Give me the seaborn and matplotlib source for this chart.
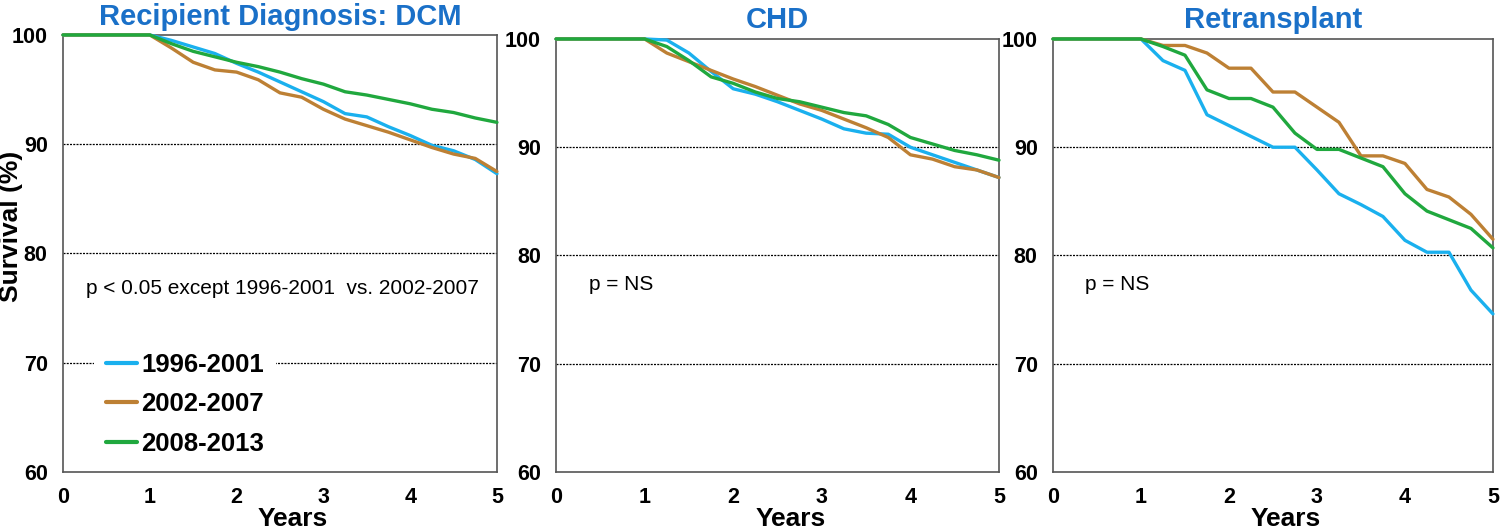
import numpy as np
import pandas as pd
import matplotlib
matplotlib.use("Agg")
import matplotlib.pyplot as plt
import seaborn as sns

# survival (%), quarterly steps after year 1
years = [0, 1, 1.25, 1.5, 1.75, 2, 2.25, 2.5, 2.75, 3, 3.25, 3.5, 3.75, 4, 4.25, 4.5, 4.75, 5]
eras = ["1996-2001", "2002-2007", "2008-2013"]

dcm_9601 = [100, 100, 99.5, 98.9, 98.3, 97.4, 96.6, 95.7, 94.8, 93.9, 92.8, 92.5, 91.6, 90.8, 89.9, 89.4, 88.6, 87.3]
dcm_0207 = [100, 100, 98.8, 97.5, 96.8, 96.6, 95.9, 94.7, 94.3, 93.2, 92.3, 91.7, 91.1, 90.4, 89.7, 89.1, 88.7, 87.5]
dcm_0813 = [100, 100, 99.2, 98.5, 98.0, 97.5, 97.1, 96.6, 96.0, 95.5, 94.8, 94.5, 94.1, 93.7, 93.2, 92.9, 92.4, 92.0]

chd_9601 = [100, 100, 99.9, 98.7, 97.0, 95.4, 94.9, 94.2, 93.4, 92.6, 91.7, 91.3, 91.2, 90.0, 89.3, 88.6, 87.9, 87.2]
chd_0207 = [100, 100, 98.7, 97.9, 97.1, 96.3, 95.6, 94.8, 94.0, 93.4, 92.6, 91.8, 90.9, 89.3, 88.9, 88.2, 87.9, 87.2]
chd_0813 = [100, 100, 99.3, 98.0, 96.5, 95.9, 95.1, 94.5, 94.2, 93.7, 93.2, 92.9, 92.1, 90.9, 90.3, 89.7, 89.3, 88.8]

retx_9601 = [100, 100, 98.0, 97.1, 93.0, 92.0, 91.0, 90.0, 90.0, 87.9, 85.7, 84.7, 83.6, 81.4, 80.3, 80.3, 76.8, 74.6]
retx_0207 = [100, 100, 99.4, 99.4, 98.7, 97.3, 97.3, 95.1, 95.1, 93.7, 92.3, 89.2, 89.2, 88.5, 86.1, 85.4, 83.8, 81.5]
retx_0813 = [100, 100, 99.3, 98.5, 95.3, 94.5, 94.5, 93.7, 91.3, 89.8, 89.8, 89.0, 88.2, 85.7, 84.1, 83.3, 82.5, 80.7]

titles = ["Recipient Diagnosis: DCM", "CHD", "Retransplant"]
pvals = ["p < 0.05 except 1996-2001  vs. 2002-2007", "p = NS", "p = NS"]
colors = ["#1AB0EE", "#BD8034", "#20A83E"]

panels = [
    [dcm_9601, dcm_0207, dcm_0813],
    [chd_9601, chd_0207, chd_0813],
    [retx_9601, retx_0207, retx_0813],
]

sns.set_style("white")
plt.rcParams["font.family"] = ["Liberation Sans", "DejaVu Sans"]
plt.rcParams["text.color"] = "black"
plt.rcParams["axes.labelcolor"] = "black"

fig = plt.figure(figsize=(15, 5.28), dpi=100)
axes = [
    fig.add_axes([0.042, 0.1061, 0.2893, 0.8277]),
    fig.add_axes([0.3707, 0.1061, 0.2953, 0.8201]),
    fig.add_axes([0.702, 0.1061, 0.2933, 0.8201]),
]
text_pos = [(0.265, 76.75), (0.372, 77.3), (0.364, 77.3)]
title_pad = [7, 8, 8]

for i, ax in enumerate(axes):
    rows = []
    for era, vals in zip(eras, panels[i]):
        for t, v in zip(years, vals):
            rows.append({"Years": t, "Survival": v, "Era": era})
    df = pd.DataFrame(rows)

    sns.lineplot(data=df, x="Years", y="Survival", hue="Era", palette=colors,
                 errorbar=None, linewidth=2.4, legend=(i == 0), ax=ax, zorder=5)
    for ln in ax.get_lines():
        ln.set_clip_on(False)

    # dotted reference lines
    for yv in [70, 80, 90]:
        ax.axhline(yv, color="black", linestyle=(0, (1.6, 1.0)), linewidth=0.9, zorder=1)

    ax.set_xlim(0, 5)
    ax.set_ylim(60, 100)
    ax.set_xticks([0, 1, 2, 3, 4, 5])
    ax.set_yticks([60, 70, 80, 90, 100])
    ax.tick_params(axis="both", direction="out", length=4, width=1.2, color="#555555",
                   labelcolor="black", labelsize=15.5, pad=7)
    for lab in ax.get_xticklabels() + ax.get_yticklabels():
        lab.set_fontweight("bold")
    for sp in ax.spines.values():
        sp.set_color("#555555")
        sp.set_linewidth(1.2)

    ax.set_title(titles[i], color="#1A70C8", fontsize=21, fontweight="bold",
                 y=1.0, pad=title_pad[i])
    ax.set_xlabel("Years", fontsize=19, fontweight="bold", labelpad=-1)
    ax.xaxis.label.set_x(0.53)
    ax.set_ylabel("")
    ax.text(text_pos[i][0], text_pos[i][1], pvals[i], fontsize=15, va="center", ha="left",
            color="black")

axes[0].set_ylabel("Survival (%)", fontsize=19, fontweight="bold", va="center")
axes[0].yaxis.set_label_coords(-0.12, 0.561)

handles, labels = axes[0].get_legend_handles_labels()
for h in handles:
    h.set_linewidth(3)
leg = axes[0].legend(handles, labels, loc="center left", bbox_to_anchor=(0.072, 0.155),
                     frameon=True, facecolor="white", edgecolor="none", framealpha=1,
                     fontsize=18.5, handlelength=1.2, handletextpad=0.19,
                     labelspacing=0.6, borderpad=0.45, borderaxespad=0, title=None)
for t in leg.get_texts():
    t.set_fontweight("bold")
    t.set_color("black")
leg.set_zorder(3)

fig.savefig("out.png", dpi=100)
